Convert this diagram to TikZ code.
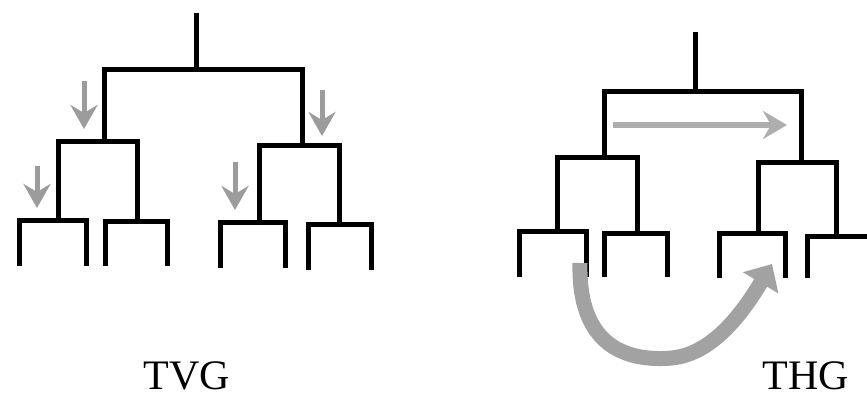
\documentclass[tikz,border=0pt]{standalone}
\usepackage{fontspec}
\setmainfont{Liberation Serif}
\usetikzlibrary{arrows.meta}
\definecolor{arrgray}{HTML}{9C9C9C}
\definecolor{hgray}{HTML}{AEAEAE}
\definecolor{cgray}{HTML}{A2A2A2}
\begin{document}
\begin{tikzpicture}[x=1pt,y=-1pt,
  tree/.style={line width=5pt, line cap=butt, line join=miter, black},
  downarr/.style={line width=5pt, arrgray, -{Stealth[length=24pt,width=27pt,inset=8pt]}},
  harr/.style={line width=6pt, hgray, -{Stealth[length=24pt,width=28pt,inset=8pt]}},
  carr/.style={line width=15pt, cgray, -{Triangle[length=22pt,width=40pt]}},
  lbl/.style={font=\fontsize{42}{42}\selectfont, inner sep=1pt}]
\useasboundingbox (0,0) rectangle (867,398);
% ---------- left tree (TVG) ----------
\draw[tree] (196,13) -- (196,70);
\draw[tree] (104,142) -- (104,70) -- (302,70) -- (302,146);
\draw[tree] (58,220) -- (58,142) -- (137,142) -- (137,221);
\draw[tree] (259,222) -- (259,146) -- (339,146) -- (339,224);
\draw[tree] (19,266) -- (19,220) -- (86,220) -- (86,266);
\draw[tree] (105,266) -- (105,221) -- (167,221) -- (167,266);
\draw[tree] (220,268) -- (220,222) -- (285,222) -- (285,268);
\draw[tree] (308,270) -- (308,224) -- (371,224) -- (371,270);
% down arrows
\draw[downarr] (84,81) -- (84,129);
\draw[downarr] (322,90) -- (322,136);
\draw[downarr] (37,166) -- (37,208);
\draw[downarr] (235,162) -- (235,210);
\node[lbl] (tvg) at (187,376) {TVG};
% ---------- right tree (THG) ----------
\draw[tree] (695,32) -- (695,92);
\draw[tree] (604,158) -- (604,92) -- (801,92) -- (801,163);
\draw[tree] (557,231) -- (557,158) -- (637,158) -- (637,233);
\draw[tree] (758,233) -- (758,163) -- (836,163) -- (836,236);
\draw[tree] (519,277) -- (519,231) -- (586,231) -- (586,277);
\draw[tree] (604,277) -- (604,233) -- (667,233) -- (667,277);
\draw[tree] (719,278) -- (719,233) -- (785,233) -- (785,278);
\draw[tree] (807,278) -- (807,236) -- (868,236);
% horizontal arrow
\draw[harr] (613,125) -- (787,125);
% curved arrow
\draw[carr] (580,263) .. controls (578,345) and (625,362) .. (672,358)
  .. controls (712,354) and (742,314) .. (772,264);
\node[lbl] (thg) at (806,376) {THG};
\end{tikzpicture}
\end{document}
